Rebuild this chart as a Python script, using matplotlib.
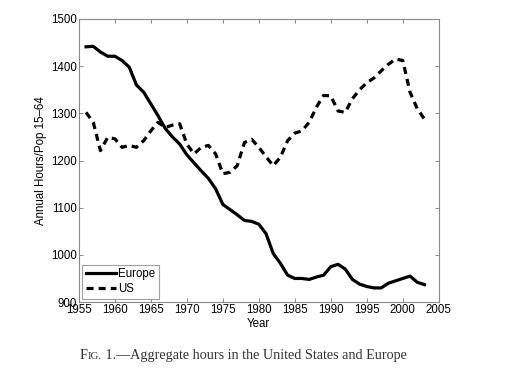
import matplotlib
matplotlib.use("Agg")
import matplotlib.pyplot as plt
from matplotlib.offsetbox import TextArea, HPacker, AnchoredOffsetbox

years = list(range(1956, 2004))
europe = [1441, 1442, 1430, 1421, 1421, 1412, 1398, 1360, 1345, 1320,
          1295, 1268, 1250, 1235, 1212, 1195, 1178, 1162, 1140, 1107,
          1096, 1085, 1073, 1071, 1065, 1045, 1003, 982, 957, 950,
          950, 948, 953, 957, 975, 980, 970, 948, 938, 933,
          930, 930, 940, 945, 950, 955, 942, 937]
us = [1302, 1281, 1221, 1249, 1246, 1228, 1232, 1228, 1242, 1263,
      1281, 1270, 1275, 1278, 1235, 1214, 1228, 1232, 1214, 1172,
      1175, 1189, 1238, 1245, 1228, 1208, 1189, 1207, 1242, 1258,
      1263, 1281, 1313, 1338, 1337, 1305, 1302, 1331, 1350, 1365,
      1375, 1390, 1404, 1415, 1412, 1345, 1310, 1288]

xticks = list(range(1955, 2006, 5))
yticks = list(range(900, 1501, 100))

plt.rcParams['font.family'] = ['Liberation Sans', 'DejaVu Sans']

fig = plt.figure(figsize=(5.12, 3.72), dpi=100)
ax = fig.add_axes([0.154, 0.188, 0.703, 0.761])

ax.plot(years, europe, color='black', lw=2.3, solid_joinstyle='round', label='Europe')
ax.plot(years, us, color='black', lw=2.3, dashes=(2.2, 1.6), label='US')

ax.set_xlim(1955, 2005)
ax.set_ylim(900, 1500)
ax.set_xticks(xticks)
ax.set_yticks(yticks)
ax.tick_params(direction='in', length=3, width=0.6, color='#777777',
               top=True, right=True, labelsize=8.3, pad=1.5)
for s in ax.spines.values():
    s.set_color('#888888')
    s.set_linewidth(0.8)

ax.set_xlabel('Year', fontsize=8.3, labelpad=1)
ax.set_ylabel('Annual Hours/Pop 15\u201364', fontsize=8.3, labelpad=3)

leg = ax.legend(loc='lower left', fontsize=8.3, frameon=True, fancybox=False,
                edgecolor='#888888', handlelength=2.6, handletextpad=0.2,
                borderaxespad=0.3, borderpad=0.3, labelspacing=0.25)
leg.get_frame().set_linewidth(0.8)

serif = ['Liberation Serif', 'DejaVu Serif']
c = '#333333'
t1 = TextArea('F', textprops=dict(fontsize=10.2, family=serif, color=c))
t2 = TextArea('IG.', textprops=dict(fontsize=7.8, family=serif, color=c))
t3 = TextArea(' 1.\u2014Aggregate hours in the United States and Europe',
              textprops=dict(fontsize=10.2, family=serif, color=c))
box = HPacker(children=[t1, t2, t3], align='baseline', pad=0, sep=0)
anch = AnchoredOffsetbox(loc='center', child=box, frameon=False,
                         bbox_to_anchor=(0.475, 0.045), bbox_transform=fig.transFigure,
                         pad=0, borderpad=0)
fig.add_artist(anch)

fig.savefig('out.png', dpi=100)
